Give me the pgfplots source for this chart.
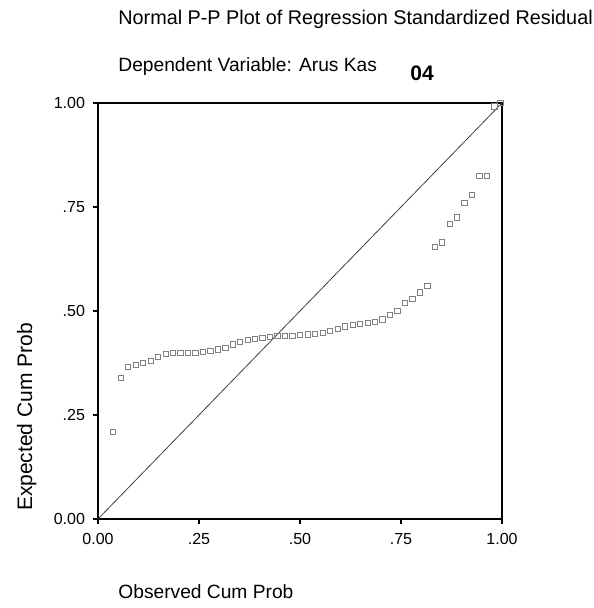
\documentclass[border=0pt]{standalone}
\usepackage{pgfplots}
\pgfplotsset{compat=1.18}
\usepackage{fontspec}
\setmainfont{Liberation Sans}
\begin{document}
\begin{tikzpicture}[x=1pt,y=1pt]
\path (0,0) rectangle (296.5,304);
\begin{axis}[
  at={(49pt,44.5pt)}, anchor=south west,
  scale only axis, width=202pt, height=208pt,
  xmin=0, xmax=1, ymin=0, ymax=1,
  xtick={0,0.25,0.5,0.75,1}, ytick={0,0.25,0.5,0.75,1},
  xticklabels={\mbox{0.00},\mbox{.25},\mbox{.50},\mbox{.75},\mbox{1.00}},
  yticklabels={\mbox{0.00},\mbox{.25},\mbox{.50},\mbox{.75},\mbox{1.00}},
  tick align=outside, xtick pos=bottom, ytick pos=left,
  major tick length=2.5pt,
  axis line style={line width=0.8pt},
  every tick/.style={black, line width=0.6pt},
  tick label style={font=\fontsize{8}{9.5}\selectfont},
  xticklabel style={yshift=-1pt},
  yticklabel style={xshift=-0.5pt},
  clip=false,
]
\addplot[black!75, line width=0.4pt] coordinates {(0,0) (1,1)};
\addplot[only marks, mark=square, mark size=1.3pt, black!50, mark options={line width=0.35pt}] coordinates {
(0.037,0.210) (0.056,0.340) (0.074,0.365) (0.093,0.370) (0.111,0.375)
(0.130,0.380) (0.148,0.390) (0.167,0.397) (0.185,0.400) (0.204,0.400)
(0.222,0.400) (0.241,0.400) (0.259,0.402) (0.278,0.405) (0.296,0.408)
(0.315,0.412) (0.333,0.420) (0.352,0.425) (0.370,0.430) (0.389,0.433)
(0.407,0.435) (0.426,0.438) (0.444,0.440) (0.463,0.440) (0.481,0.441)
(0.500,0.443) (0.519,0.444) (0.537,0.445) (0.556,0.448) (0.574,0.453)
(0.593,0.458) (0.611,0.463) (0.630,0.467) (0.648,0.470) (0.667,0.471)
(0.685,0.474) (0.704,0.480) (0.722,0.490) (0.741,0.500) (0.759,0.520)
(0.778,0.530) (0.796,0.545) (0.815,0.560) (0.833,0.655) (0.852,0.665)
(0.870,0.710) (0.889,0.725) (0.907,0.760) (0.926,0.780) (0.944,0.825)
(0.963,0.825) (0.981,0.992) (0.996,1.000)
};
\end{axis}
\node[anchor=base west, inner sep=0pt, font=\fontsize{9.9}{11}\selectfont] at (59,291.5) {Normal P-P Plot of Regression Standardized Residual};
\node[anchor=base west, inner sep=0pt, font=\fontsize{9.6}{11}\selectfont] at (59,268) {Dependent Variable: Arus Kas};
\node[anchor=base west, inner sep=0pt, font=\fontsize{10.5}{12}\selectfont\bfseries] at (205,263.5) {04};
\node[anchor=base west, inner sep=0pt, font=\fontsize{9.6}{11}\selectfont] at (59,5) {Observed Cum Prob};
\node[rotate=90, anchor=base, inner sep=0pt, font=\fontsize{10.5}{12}\selectfont] at (16,95.5) {Expected Cum Prob};
\end{tikzpicture}
\end{document}
